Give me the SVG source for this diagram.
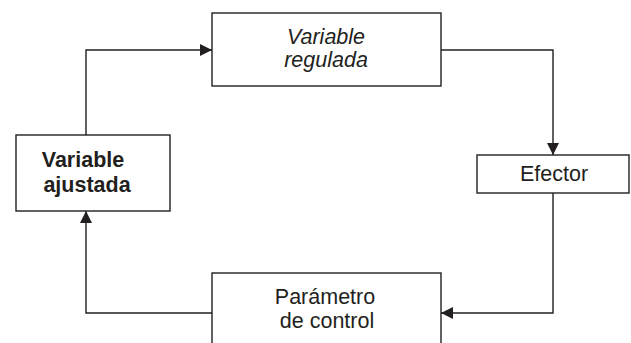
<svg xmlns="http://www.w3.org/2000/svg" width="631" height="343" viewBox="0 0 631 343">
  <style>
    .box { fill: #ffffff; stroke: #231f20; stroke-width: 1.4; }
    .line { fill: none; stroke: #231f20; stroke-width: 1.4; }
    text { font-family: "Liberation Sans", Arial, sans-serif; font-size: 21.5px; fill: #231f20; text-anchor: middle; }
    .it { font-style: italic; }
    .bd { font-weight: bold; }
  </style>
  <defs>
    <marker id="arrow" markerWidth="12" markerHeight="12" refX="12" refY="6" orient="auto" markerUnits="userSpaceOnUse">
      <path d="M0,0 L12,6 L0,12 Z" fill="#231f20"/>
    </marker>
  </defs>
  <rect width="631" height="343" fill="#ffffff"/>

  <g id="connectors">
    <path class="line" d="M86,135 V50 H212" marker-end="url(#arrow)"/>
    <path class="line" d="M441,50 H553 V155" marker-end="url(#arrow)"/>
    <path class="line" d="M553,193 V313 H441" marker-end="url(#arrow)"/>
    <path class="line" d="M212,313 H86 V211" marker-end="url(#arrow)"/>
  </g>

  <g id="variable-regulada">
    <rect class="box" x="212" y="13" width="229" height="73"/>
    <text class="it" x="326" y="44">Variable</text>
    <text class="it" x="326" y="67">regulada</text>
  </g>

  <g id="efector">
    <rect class="box" x="477" y="155" width="152" height="38"/>
    <text x="554" y="181">Efector</text>
  </g>

  <g id="parametro-de-control">
    <rect class="box" x="212" y="273" width="229" height="80"/>
    <text x="325" y="304">Parámetro</text>
    <text x="327" y="328">de control</text>
  </g>

  <g id="variable-ajustada">
    <rect class="box" x="16" y="135" width="154" height="76"/>
    <text class="bd" x="83" y="167">Variable</text>
    <text class="bd" x="87" y="192">ajustada</text>
  </g>
</svg>
